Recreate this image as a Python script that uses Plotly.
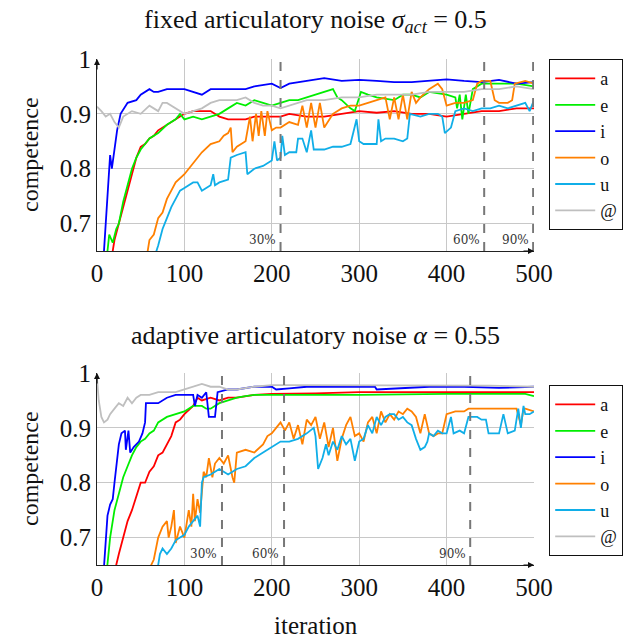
import plotly.graph_objects as go

# ---------------- data: fixed articulatory noise (top) ----------------
top_a_x = [15, 18, 20, 25, 30, 35, 40, 45, 50, 55, 60, 65, 70, 75, 80, 85, 90, 100, 110, 120, 130, 140, 150, 160, 170, 180, 190, 200, 210, 220, 240, 260, 280, 300, 320, 340, 360, 380, 400, 420, 440, 460, 480, 500]
top_a_y = [0.62, 0.65, 0.67, 0.70, 0.73, 0.76, 0.79, 0.82, 0.84, 0.845, 0.855, 0.86, 0.87, 0.875, 0.88, 0.885, 0.89, 0.90, 0.905, 0.905, 0.905, 0.895, 0.89, 0.89, 0.89, 0.895, 0.895, 0.895, 0.895, 0.90, 0.895, 0.895, 0.90, 0.905, 0.902, 0.905, 0.90, 0.90, 0.895, 0.90, 0.905, 0.905, 0.91, 0.91]

top_e_x = [10, 12, 14, 18, 22, 25, 30, 35, 40, 45, 50, 55, 60, 70, 80, 90, 95, 100, 110, 120, 130, 140, 150, 160, 170, 180, 190, 200, 210, 220, 230, 240, 250, 260, 270, 275, 280, 290, 295, 300, 302, 310, 320, 340, 350, 360, 370, 380, 400, 410, 412, 415, 418, 422, 425, 430, 440, 460, 480, 500]
top_e_y = [0.62, 0.65, 0.68, 0.665, 0.69, 0.70, 0.74, 0.77, 0.80, 0.82, 0.835, 0.845, 0.855, 0.865, 0.88, 0.89, 0.90, 0.89, 0.895, 0.89, 0.895, 0.90, 0.91, 0.92, 0.915, 0.925, 0.92, 0.915, 0.92, 0.925, 0.925, 0.93, 0.935, 0.94, 0.945, 0.93, 0.925, 0.91, 0.905, 0.93, 0.94, 0.935, 0.93, 0.925, 0.935, 0.935, 0.93, 0.94, 0.935, 0.93, 0.91, 0.935, 0.89, 0.935, 0.90, 0.945, 0.955, 0.955, 0.955, 0.95]

top_i_x = [6, 8, 10, 14, 15, 17, 20, 23, 27, 35, 45, 50, 60, 65, 70, 80, 100, 120, 130, 150, 170, 180, 200, 210, 220, 240, 260, 280, 300, 320, 340, 360, 380, 400, 420, 440, 460, 480, 500]
top_i_y = [0.60, 0.65, 0.70, 0.79, 0.825, 0.80, 0.84, 0.87, 0.90, 0.92, 0.925, 0.935, 0.945, 0.94, 0.94, 0.945, 0.945, 0.935, 0.945, 0.945, 0.945, 0.95, 0.955, 0.947, 0.955, 0.96, 0.965, 0.96, 0.962, 0.96, 0.958, 0.958, 0.96, 0.963, 0.96, 0.958, 0.962, 0.955, 0.958]

top_o_x = [55, 58, 60, 65, 70, 75, 80, 85, 90, 100, 110, 120, 130, 140, 145, 150, 153, 155, 160, 170, 175, 178, 182, 185, 188, 192, 195, 200, 205, 210, 220, 230, 235, 240, 245, 250, 255, 260, 270, 280, 290, 300, 310, 320, 330, 335, 340, 345, 350, 355, 360, 365, 370, 380, 390, 395, 400, 410, 420, 430, 435, 440, 450, 455, 460, 470, 475, 478, 490, 500]
top_o_y = [0.62, 0.65, 0.67, 0.68, 0.71, 0.72, 0.745, 0.76, 0.775, 0.79, 0.81, 0.83, 0.845, 0.85, 0.86, 0.865, 0.875, 0.83, 0.84, 0.85, 0.895, 0.85, 0.90, 0.86, 0.905, 0.86, 0.905, 0.87, 0.875, 0.875, 0.885, 0.88, 0.915, 0.875, 0.92, 0.875, 0.92, 0.875, 0.90, 0.91, 0.915, 0.915, 0.92, 0.925, 0.93, 0.89, 0.93, 0.89, 0.935, 0.89, 0.94, 0.92, 0.93, 0.945, 0.955, 0.945, 0.915, 0.92, 0.92, 0.925, 0.955, 0.96, 0.96, 0.925, 0.92, 0.92, 0.925, 0.955, 0.96, 0.955]

top_u_x = [65, 68, 70, 75, 80, 85, 90, 95, 100, 105, 110, 115, 120, 125, 130, 133, 135, 140, 150, 153, 160, 170, 172, 180, 190, 200, 203, 206, 210, 212, 215, 220, 228, 230, 235, 240, 245, 248, 260, 270, 280, 290, 297, 300, 305, 320, 322, 325, 330, 340, 350, 355, 358, 370, 380, 390, 395, 398, 405, 410, 420, 430, 440, 450, 460, 470, 480, 490, 495, 500]
top_u_y = [0.62, 0.65, 0.66, 0.69, 0.71, 0.73, 0.745, 0.76, 0.765, 0.77, 0.775, 0.775, 0.76, 0.765, 0.77, 0.79, 0.77, 0.775, 0.78, 0.82, 0.825, 0.83, 0.79, 0.80, 0.805, 0.815, 0.85, 0.815, 0.82, 0.86, 0.825, 0.83, 0.83, 0.855, 0.855, 0.83, 0.87, 0.835, 0.835, 0.84, 0.84, 0.845, 0.89, 0.85, 0.845, 0.845, 0.89, 0.85, 0.855, 0.855, 0.85, 0.855, 0.90, 0.895, 0.90, 0.90, 0.895, 0.865, 0.875, 0.905, 0.91, 0.905, 0.91, 0.91, 0.915, 0.91, 0.915, 0.92, 0.905, 0.925]

top_at_x = [0, 5, 10, 15, 20, 25, 30, 40, 50, 60, 70, 75, 80, 90, 100, 110, 120, 130, 140, 150, 160, 170, 180, 190, 200, 210, 220, 240, 260, 280, 300, 320, 340, 360, 380, 400, 420, 440, 460, 480, 500]
top_at_y = [0.913, 0.905, 0.895, 0.90, 0.885, 0.875, 0.895, 0.905, 0.90, 0.915, 0.905, 0.92, 0.92, 0.91, 0.90, 0.905, 0.91, 0.92, 0.925, 0.925, 0.925, 0.93, 0.92, 0.915, 0.915, 0.91, 0.915, 0.925, 0.925, 0.93, 0.93, 0.935, 0.935, 0.935, 0.94, 0.94, 0.94, 0.945, 0.945, 0.95, 0.945]

# ---------------- data: adaptive articulatory noise (bottom) ----------------
bot_a_x = [20, 22, 25, 30, 35, 40, 45, 50, 55, 60, 65, 70, 75, 80, 85, 90, 95, 100, 110, 115, 120, 130, 140, 150, 160, 180, 200, 250, 300, 350, 400, 450, 500]
bot_a_y = [0.63, 0.65, 0.67, 0.70, 0.73, 0.75, 0.775, 0.80, 0.80, 0.82, 0.83, 0.85, 0.855, 0.87, 0.885, 0.91, 0.915, 0.925, 0.94, 0.955, 0.95, 0.955, 0.95, 0.955, 0.955, 0.96, 0.962, 0.963, 0.965, 0.965, 0.965, 0.965, 0.965]

bot_e_x = [10, 12, 15, 20, 25, 30, 35, 40, 45, 50, 55, 60, 65, 70, 80, 90, 100, 110, 120, 125, 130, 140, 150, 160, 170, 180, 200, 250, 300, 400, 450, 490, 500]
bot_e_y = [0.62, 0.65, 0.70, 0.75, 0.78, 0.81, 0.83, 0.85, 0.865, 0.875, 0.88, 0.89, 0.895, 0.91, 0.92, 0.925, 0.93, 0.94, 0.94, 0.935, 0.935, 0.945, 0.95, 0.955, 0.958, 0.96, 0.96, 0.96, 0.96, 0.962, 0.962, 0.962, 0.958]

bot_i_x = [6, 8, 10, 12, 15, 18, 20, 25, 28, 32, 33, 36, 38, 42, 48, 52, 55, 56, 60, 70, 80, 90, 100, 110, 112, 115, 120, 125, 128, 135, 138, 150, 160, 180, 200, 205, 220, 240, 260, 300, 318, 320, 340, 380, 420, 460, 500]
bot_i_y = [0.60, 0.65, 0.70, 0.74, 0.76, 0.77, 0.80, 0.87, 0.89, 0.895, 0.86, 0.895, 0.855, 0.865, 0.875, 0.89, 0.91, 0.945, 0.945, 0.945, 0.955, 0.96, 0.96, 0.96, 0.94, 0.96, 0.955, 0.965, 0.92, 0.92, 0.965, 0.97, 0.97, 0.975, 0.975, 0.97, 0.972, 0.975, 0.975, 0.975, 0.975, 0.97, 0.972, 0.975, 0.975, 0.973, 0.975]

bot_o_x = [58, 62, 65, 70, 75, 80, 82, 85, 88, 90, 95, 100, 105, 108, 110, 112, 115, 118, 122, 125, 128, 132, 135, 140, 145, 150, 155, 157, 160, 170, 180, 190, 195, 200, 205, 210, 215, 220, 225, 230, 235, 240, 245, 250, 255, 260, 265, 270, 275, 280, 285, 290, 295, 300, 305, 310, 315, 320, 325, 330, 335, 340, 345, 350, 355, 360, 365, 370, 375, 380, 385, 390, 395, 400, 410, 420, 425, 440, 460, 480, 485, 488, 490, 500]
bot_o_y = [0.63, 0.65, 0.66, 0.70, 0.72, 0.73, 0.70, 0.72, 0.75, 0.69, 0.72, 0.70, 0.75, 0.72, 0.78, 0.73, 0.77, 0.745, 0.82, 0.81, 0.845, 0.81, 0.835, 0.845, 0.835, 0.85, 0.81, 0.80, 0.855, 0.86, 0.855, 0.87, 0.885, 0.89, 0.90, 0.91, 0.895, 0.91, 0.88, 0.905, 0.87, 0.915, 0.905, 0.92, 0.88, 0.91, 0.865, 0.90, 0.84, 0.88, 0.905, 0.92, 0.885, 0.89, 0.875, 0.91, 0.92, 0.89, 0.93, 0.91, 0.925, 0.915, 0.93, 0.925, 0.935, 0.93, 0.92, 0.89, 0.925, 0.89, 0.885, 0.89, 0.89, 0.925, 0.93, 0.93, 0.935, 0.935, 0.935, 0.935, 0.905, 0.935, 0.935, 0.93]

bot_u_x = [67, 70, 72, 75, 80, 85, 90, 95, 100, 105, 110, 115, 118, 120, 122, 130, 135, 140, 145, 150, 155, 160, 170, 180, 190, 200, 210, 220, 230, 240, 248, 250, 253, 258, 262, 265, 270, 275, 280, 285, 290, 295, 300, 305, 310, 315, 320, 325, 330, 335, 340, 345, 350, 355, 360, 365, 370, 375, 378, 380, 385, 390, 395, 400, 405, 408, 415, 420, 425, 435, 440, 445, 448, 455, 460, 465, 470, 478, 482, 485, 488, 490, 495, 500]
bot_u_y = [0.62, 0.65, 0.67, 0.68, 0.67, 0.68, 0.695, 0.70, 0.705, 0.72, 0.73, 0.74, 0.72, 0.80, 0.81, 0.815, 0.82, 0.825, 0.82, 0.815, 0.82, 0.825, 0.83, 0.845, 0.855, 0.865, 0.875, 0.875, 0.88, 0.89, 0.90, 0.885, 0.825, 0.845, 0.87, 0.85, 0.875, 0.86, 0.885, 0.87, 0.88, 0.84, 0.875, 0.88, 0.905, 0.89, 0.92, 0.905, 0.92, 0.925, 0.925, 0.915, 0.92, 0.91, 0.905, 0.88, 0.86, 0.865, 0.875, 0.89, 0.885, 0.895, 0.89, 0.89, 0.92, 0.89, 0.895, 0.89, 0.92, 0.92, 0.915, 0.915, 0.89, 0.89, 0.89, 0.925, 0.89, 0.895, 0.935, 0.90, 0.94, 0.925, 0.925, 0.93]

bot_at_x = [0, 2, 5, 8, 12, 15, 20, 25, 30, 35, 40, 45, 50, 60, 70, 80, 90, 100, 110, 120, 130, 140, 150, 160, 180, 200, 220, 240, 260, 300, 350, 400, 450, 500]
bot_at_y = [0.99, 0.95, 0.92, 0.91, 0.915, 0.925, 0.935, 0.945, 0.94, 0.955, 0.945, 0.955, 0.96, 0.96, 0.965, 0.965, 0.965, 0.97, 0.975, 0.98, 0.975, 0.975, 0.97, 0.97, 0.975, 0.978, 0.978, 0.978, 0.978, 0.977, 0.977, 0.978, 0.977, 0.975]

labels = ["a", "e", "i", "o", "u", "@"]
colors = ["#ff0000", "#00ee00", "#0000ff", "#ff8000", "#10aee8", "#bfbfbf"]

top_series = [(top_a_x, top_a_y), (top_e_x, top_e_y), (top_i_x, top_i_y),
              (top_o_x, top_o_y), (top_u_x, top_u_y), (top_at_x, top_at_y)]
bot_series = [(bot_a_x, bot_a_y), (bot_e_x, bot_e_y), (bot_i_x, bot_i_y),
              (bot_o_x, bot_o_y), (bot_u_x, bot_u_y), (bot_at_x, bot_at_y)]

top_marks = [210, 443, 499]
top_mark_labels = ["30%", "60%", "90%"]
bot_marks = [143, 214, 427]
bot_mark_labels = ["30%", "60%", "90%"]

x_ticks = [0, 100, 200, 300, 400, 500]
y_ticks = [0.7, 0.8, 0.9, 1.0]
y_ticktext = ["0.7", "0.8", "0.9", "1"]

FONT = "Liberation Serif"
TXT = "#111"

# The page body adds an 8 px offset, so the figure is 8 px smaller than the window.
OFF = 8
W, H = 643 - OFF, 639 - OFF
L = 97 - OFF
T = 59 - OFF
R = W - (534 - OFF)
B = H - (565 - OFF)
plot_w = W - L - R
plot_h = H - T - B
top_dom = [0.6206, 1.0]
bot_dom = [0.0, 0.3794]


def px_x(px):
    return (px - OFF - L) / plot_w


def px_y(px):
    return (H - B - (px - OFF)) / plot_h


fig = go.Figure()
for (sx, sy), lab, col in zip(top_series, labels, colors):
    fig.add_trace(go.Scatter(x=sx, y=sy, mode="lines", name=lab,
                             line=dict(color=col, width=1.8),
                             xaxis="x", yaxis="y", legend="legend"))
for (sx, sy), lab, col in zip(bot_series, labels, colors):
    fig.add_trace(go.Scatter(x=sx, y=sy, mode="lines", name=lab,
                             line=dict(color=col, width=1.8),
                             xaxis="x2", yaxis="y2", legend="legend2"))

axis_common = dict(range=[0, 500], tickvals=x_ticks, showgrid=True, gridcolor="#c8c8c8",
                   gridwidth=1, zeroline=False, showline=True, linecolor="#222",
                   linewidth=1.2, ticks="", automargin=False,
                   tickfont=dict(family=FONT, size=25, color=TXT))
yaxis_common = dict(range=[0.65, 1.0], tickvals=y_ticks, ticktext=y_ticktext, showgrid=True,
                    gridcolor="#c8c8c8", gridwidth=1, zeroline=False, showline=True,
                    linecolor="#222", linewidth=1.2, ticks="", automargin=False,
                    tickfont=dict(family=FONT, size=25, color=TXT))

legend_common = dict(xref="container", yref="container", xanchor="left", yanchor="top",
                     bordercolor=TXT, borderwidth=1.2, font=dict(family=FONT, size=18, color=TXT),
                     tracegroupgap=0, itemwidth=40, bgcolor="white")

fig.update_layout(
    width=W, height=H,
    margin=dict(l=L, r=R, t=T, b=B, autoexpand=False),
    paper_bgcolor="white", plot_bgcolor="white",
    showlegend=True,
    xaxis=dict(domain=[0, 1], anchor="y", **axis_common),
    yaxis=dict(domain=top_dom, anchor="x", **yaxis_common),
    xaxis2=dict(domain=[0, 1], anchor="y2", **axis_common),
    yaxis2=dict(domain=bot_dom, anchor="x2", **yaxis_common),
    legend=dict(x=(549 - OFF) / W, y=1 - (59 - OFF) / H, **legend_common),
    legend2=dict(x=(549 - OFF) / W, y=1 - (385 - OFF) / H, **legend_common),
)

shapes = []
annotations = []
for xr, yr, marks, mlabels, dom in [("x", "y", top_marks, top_mark_labels, top_dom),
                                    ("x2", "y2", bot_marks, bot_mark_labels, bot_dom)]:
    for m, ml in zip(marks, mlabels):
        shapes.append(dict(type="line", xref=xr, yref=yr, x0=m, x1=m, y0=0.65, y1=1.0,
                           line=dict(color="#777", width=2, dash="dash")))
        annotations.append(dict(xref=xr, yref=yr, x=m - 3, y=0.653, text=ml, showarrow=False,
                                xanchor="right", yanchor="bottom",
                                font=dict(family="DejaVu Serif", size=12, color="#333")))
    # axis arrows
    annotations.append(dict(xref=xr, yref=yr, x=0, y=1.0, ax=0, ay=12,
                            showarrow=True, arrowhead=2, arrowsize=1, arrowwidth=1.2,
                            arrowcolor=TXT, text=""))
    annotations.append(dict(xref=xr, yref=yr, x=500, y=0.65, ax=-12, ay=0,
                            showarrow=True, arrowhead=2, arrowsize=1, arrowwidth=1.2,
                            arrowcolor=TXT, text=""))
    # y-axis title
    annotations.append(dict(xref="paper", yref="paper", x=px_x(30),
                            y=(dom[0] + dom[1]) / 2, text="competence", textangle=-90,
                            showarrow=False, xanchor="center", yanchor="middle",
                            font=dict(family=FONT, size=24, color=TXT)))

annotations.append(dict(xref="paper", yref="paper", x=0.5, y=px_y(21), xanchor="center", yanchor="middle",
                        text="fixed articulatory noise <i>σ</i><sub><i>act</i></sub> = 0.5", showarrow=False,
                        font=dict(family=FONT, size=26, color=TXT)))
annotations.append(dict(xref="paper", yref="paper", x=0.5, y=px_y(335), xanchor="center", yanchor="middle",
                        text="adaptive articulatory noise <i>α</i> = 0.55", showarrow=False,
                        font=dict(family=FONT, size=26, color=TXT)))
annotations.append(dict(xref="paper", yref="paper", x=0.5, y=px_y(625), xanchor="center", yanchor="middle",
                        text="iteration", showarrow=False,
                        font=dict(family=FONT, size=25, color=TXT)))

fig.update_layout(shapes=shapes, annotations=annotations)
fig.write_html("out.html")
